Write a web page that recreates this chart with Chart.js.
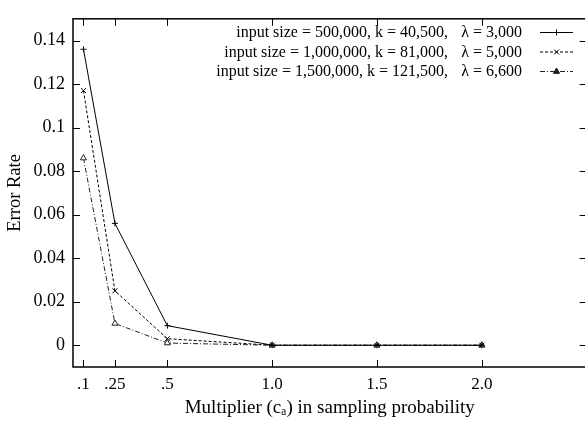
<!DOCTYPE html>
<html><head><meta charset="utf-8">
<script src="https://cdn.jsdelivr.net/npm/chart.js@4"></script>
<style>html,body{margin:0;padding:0;overflow:hidden;background:#fff}</style>
</head><body>
<canvas id="c" width="600" height="422"></canvas>
<script>
const multipliers = [0.1, 0.25, 0.5, 1.0, 1.5, 2.0];
const xTickLabels = ['.1', '.25', '.5', '1.0', '1.5', '2.0'];
const yTickValues = [0, 0.02, 0.04, 0.06, 0.08, 0.1, 0.12, 0.14];
const yTickLabels = ['0', '0.02', '0.04', '0.06', '0.08', '0.1', '0.12', '0.14'];
const errSize500k = [0.136, 0.056, 0.009, 0, 0, 0];
const errSize1000k = [0.117, 0.025, 0.003, 0, 0, 0];
const errSize1500k = [0.086, 0.010, 0.001, 0, 0, 0];
const seriesLabels = ['input size = 500,000, k = 40,500,', 'input size = 1,000,000, k = 81,000,', 'input size = 1,500,000, k = 121,500,'];
const lambdaLabels = ['λ = 3,000', 'λ = 5,000', 'λ = 6,600'];

const FONT = "'Liberation Serif', 'Times New Roman', serif";
const toPts = arr => multipliers.map((x, i) => ({x: x, y: arr[i]}));

const styles = [
  {dash: [], pt: 'cross', r: 3, color: '#000', fill: '#000'},
  {dash: [3, 2], pt: 'crossRot', r: 3.5, color: '#000', fill: '#000'},
  {dash: [5, 2, 1, 2], pt: 'triangle', r: 3.5, color: '#222', fill: '#fff'}
];
const seriesData = [errSize500k, errSize1000k, errSize1500k];

const frame = {
  id: 'frame',
  afterDraw(chart) {
    const {ctx, chartArea: a, scales} = chart;
    ctx.save();
    ctx.strokeStyle = '#000';
    ctx.lineWidth = 1.5;
    ctx.setLineDash([]);
    ctx.strokeRect(a.left, a.top, a.right - a.left, a.bottom - a.top);
    ctx.lineWidth = 1;
    const L = 7;
    scales.y.ticks.forEach(t => {
      const y = Math.round(scales.y.getPixelForValue(t.value)) + 0.5;
      ctx.beginPath();
      ctx.moveTo(a.left, y); ctx.lineTo(a.left + L, y);
      ctx.moveTo(a.right, y); ctx.lineTo(a.right - L, y);
      ctx.stroke();
    });
    scales.x.ticks.forEach(t => {
      const x = Math.round(scales.x.getPixelForValue(t.value)) + 0.5;
      ctx.beginPath();
      ctx.moveTo(x, a.bottom); ctx.lineTo(x, a.bottom - L);
      ctx.moveTo(x, a.top); ctx.lineTo(x, a.top + L);
      ctx.stroke();
    });
    // legend
    ctx.font = '16px ' + FONT;
    ctx.fillStyle = '#000';
    ctx.textBaseline = 'middle';
    const rowY = [32, 51.5, 71];
    for (let i = 0; i < 3; i++) {
      const y = rowY[i];
      ctx.textAlign = 'right';
      ctx.fillText(seriesLabels[i], 448, y + 1);
      ctx.fillText(lambdaLabels[i], 522, y + 1);
      const s = styles[i];
      ctx.strokeStyle = s.color;
      ctx.lineWidth = 1;
      ctx.setLineDash(s.dash);
      ctx.beginPath();
      ctx.moveTo(540, y + 0.5); ctx.lineTo(573, y + 0.5);
      ctx.stroke();
      ctx.setLineDash([]);
      Chart.helpers.drawPoint(ctx, {pointStyle: s.pt, radius: s.r, borderWidth: 1, rotation: 0}, 556.5, y + 0.5);
      if (s.pt === 'triangle') {
        ctx.fillStyle = s.color;
        ctx.beginPath();
        ctx.moveTo(556.5, y - 3); ctx.lineTo(559.5, y + 2.5); ctx.lineTo(553.5, y + 2.5); ctx.closePath(); ctx.fill();
        ctx.fillStyle = '#000';
      }
    }
    ctx.restore();
  }
};

new Chart(document.getElementById('c'), {
  type: 'scatter',
  data: {
    datasets: seriesData.map((d, i) => ({
      label: seriesLabels[i] + ' ' + lambdaLabels[i],
      data: toPts(d),
      showLine: true,
      borderColor: styles[i].color,
      backgroundColor: styles[i].fill,
      borderWidth: 1,
      borderDash: styles[i].dash,
      pointStyle: styles[i].pt,
      pointRadius: styles[i].r,
      pointBorderColor: styles[i].color,
      pointBackgroundColor: styles[i].fill,
      pointBorderWidth: 1,
      tension: 0
    }))
  },
  options: {
    responsive: false,
    animation: false,
    devicePixelRatio: 1,
    layout: {padding: {top: 8, right: 13.4, left: 0, bottom: 0}},
    plugins: {legend: {display: false}, tooltip: {enabled: false}},
    scales: {
      x: {
        type: 'linear',
        min: 0.05, max: 2.5,
        grid: {display: false, drawTicks: false},
        border: {display: false},
        afterBuildTicks: s => { s.ticks = multipliers.map(v => ({value: v})); },
        afterFit: s => { s.height = 55; },
        ticks: {
          padding: 7,
          color: '#000',
          font: {family: FONT, size: 17},
          maxRotation: 0,
          autoSkip: false,
          callback: (v) => { const i = multipliers.indexOf(v); return i >= 0 ? xTickLabels[i] : ''; }
        },
        title: {display: true, text: 'Multiplier (cₐ) in sampling probability', color: '#000',
          font: {family: FONT, size: 19}, padding: {top: 0, bottom: 3}}
      },
      y: {
        type: 'linear',
        min: -0.01, max: 0.15,
        grid: {display: false, drawTicks: false},
        border: {display: false},
        afterBuildTicks: s => { s.ticks = yTickValues.map(v => ({value: v})); },
        afterFit: s => { s.width = 73; },
        ticks: {
          padding: 8,
          color: '#000',
          font: {family: FONT, size: 18},
          autoSkip: false,
          callback: (v) => { const i = yTickValues.indexOf(v); return i >= 0 ? yTickLabels[i] : ''; }
        },
        title: {display: true, text: 'Error Rate', color: '#000',
          font: {family: FONT, size: 18.5}, padding: {top: 4, bottom: 0}}
      }
    }
  },
  plugins: [frame]
});
</script>
</body></html>
